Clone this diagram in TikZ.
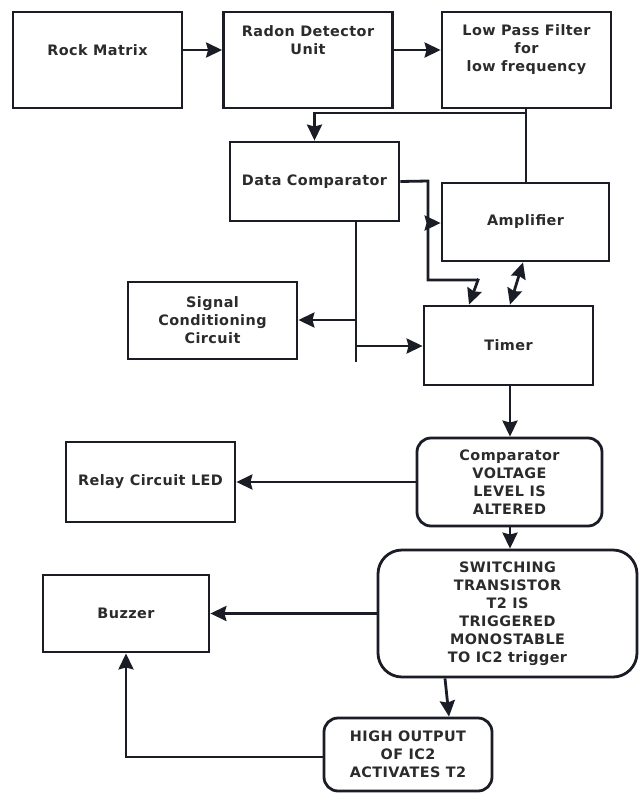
\documentclass[tikz,border=0pt]{standalone}
\usepackage{fontspec}
\newfontfamily\lbl{DejaVu Sans Bold}[LetterSpace=3]
\usetikzlibrary{arrows.meta}
\definecolor{lc}{HTML}{1A1C26}
\definecolor{tc}{HTML}{2B2B2B}
\begin{document}
\begin{tikzpicture}[x=1pt,y=-1pt,
  >={Stealth[length=16pt,width=15pt,inset=2pt]},
  blk/.style={draw=lc, line width=2.8pt, inner sep=0pt, font=\lbl\fontsize{14.4}{18}\selectfont, text=tc, align=center},
  rbox/.style={blk, rounded corners=14pt},
  txt/.style={inner sep=0pt, font=\lbl\fontsize{14.4}{18}\selectfont, text=tc, align=center},
  conn/.style={draw=lc, line width=2.8pt, ->},
  line/.style={draw=lc, line width=2.8pt}]
\useasboundingbox[fill=white] (0,0) rectangle (638,793);
% boxes
\node[blk, minimum width=169pt, minimum height=96pt] (rock) at (97.5,60) {};
\node[txt] (rockt) at (97.5,50) {Rock Matrix};
\node[blk, minimum width=169pt, minimum height=96pt] (radon) at (308,60) {};
\node[txt] (radont) at (308,40.5) {Radon Detector\\Unit};
\node[blk, minimum width=169pt, minimum height=96pt] (lpf) at (526.5,60) {};
\node[txt] (lpft) at (526.5,50) {Low Pass Filter\\for\\low frequency};
\node[blk, minimum width=169pt, minimum height=79pt] (dc) at (314.5,181.5) {Data Comparator};
\node[blk, minimum width=167pt, minimum height=78pt] (amp) at (525.5,222) {Amplifier};
\node[blk, minimum width=169pt, minimum height=77pt] (sig) at (212.5,320.5) {Signal\\Conditioning\\Circuit};
\node[blk, minimum width=169pt, minimum height=79pt] (timer) at (508.5,345.5) {Timer};
\node[blk, minimum width=169pt, minimum height=80pt] (relay) at (150.5,482) {Relay Circuit LED};
\node[rbox, minimum width=185pt, minimum height=88pt] (comp) at (509.5,482) {Comparator\\VOLTAGE\\LEVEL IS\\ALTERED};
\node[rbox, rounded corners=24pt, minimum width=259pt, minimum height=127pt] (sw) at (507.5,613.5) {SWITCHING\\TRANSISTOR\\T2 IS\\TRIGGERED\\MONOSTABLE\\TO IC2 trigger};
\node[blk, minimum width=166pt, minimum height=77pt] (buzz) at (126,613.5) {Buzzer};
\node[rbox, minimum width=168pt, minimum height=73pt] (high) at (408,754.5) {HIGH OUTPUT\\OF IC2\\ACTIVATES T2};
% connectors
\draw[conn] ([yshift=10pt]rock.east) -- ([yshift=10pt]radon.west);
\draw[conn] ([yshift=10pt]radon.east) -- ([yshift=10pt]lpf.west);
\coordinate (j1) at (526,113);
\draw[line] (526,0 |- lpf.south) -- (526,0 |- amp.north);
\draw[conn] (j1) -| (dc.north);
\coordinate (c1) at (428,181);
\coordinate (c2) at (428,280);
\coordinate (c3) at (478,280);
\coordinate (c4) at (428,223);
\draw[line] (dc.east) -- (c1) -- (c2) -- (c3);
\draw[conn, shorten <=-1.4pt] (c3) -- (469,0 |- timer.north);
\draw[conn] (c4) -- (amp.west |- c4);
\draw[line, <->] (523,0 |- amp.south) -- (510,0 |- timer.north);
\coordinate (b1) at (356,362);
\coordinate (s1) at (356,320);
\coordinate (t1) at (356,346);
\draw[line] (356,0 |- dc.south) -- (b1);
\draw[conn] (s1) -- (sig.east |- s1);
\draw[conn] (t1) -- (timer.west |- t1);
\draw[conn] (510,0 |- timer.south) -- (510,0 |- comp.north);
\draw[conn] (comp.west) -- (relay.east);
\draw[conn] (510,0 |- comp.south) -- (510,0 |- sw.north);
\draw[conn] (sw.west) -- (buzz.east);
\draw[conn] (445,0 |- sw.south) -- (449,0 |- high.north);
\draw[conn] (high.west |- 0,757) -| (buzz.south);
\end{tikzpicture}
\end{document}
